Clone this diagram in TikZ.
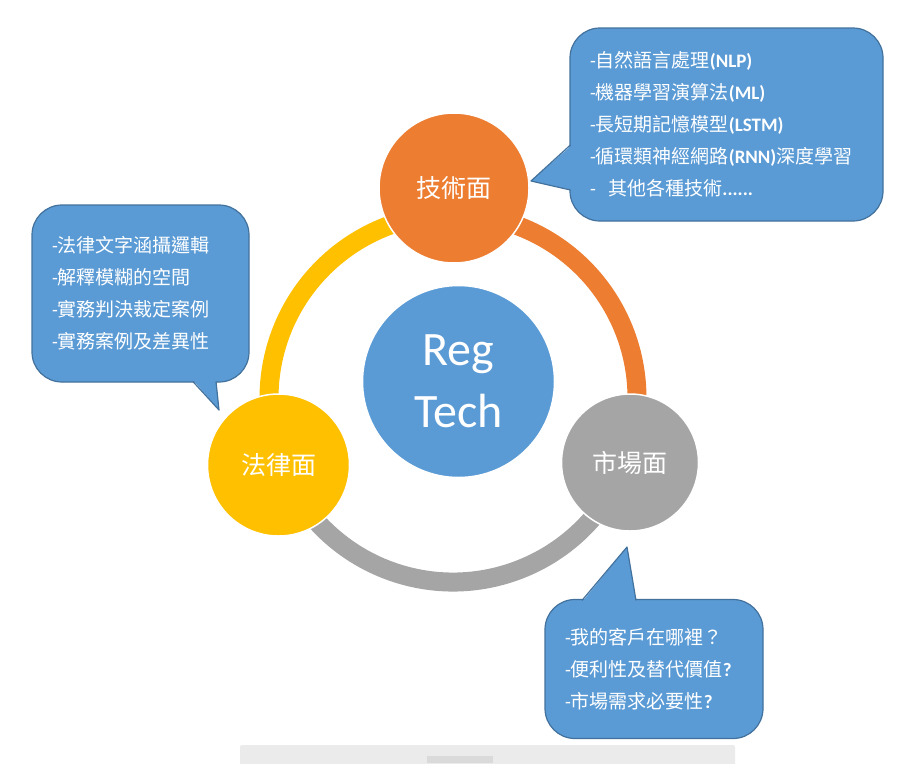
\documentclass[tikz,border=0pt]{standalone}
\usepackage{fontspec}
\setmainfont{Carlito}
\newfontfamily\cjk{Noto Sans CJK TC}
\definecolor{techorange}{HTML}{ED7D31}
\definecolor{lawyellow}{HTML}{FFC000}
\definecolor{marketgray}{HTML}{A5A5A5}
\definecolor{regblue}{HTML}{5B9BD5}
\definecolor{noteline}{HTML}{41719C}
\definecolor{barbg}{HTML}{EBEBEB}
\definecolor{bartab}{HTML}{DADADA}
\newcommand{\zh}[1]{{\cjk #1}}

\begin{document}
\begin{tikzpicture}[x=1pt, y=-1pt, every node/.style={text=white},
  pnode/.style={circle, draw=white, line width=1.5pt, inner sep=0pt, font=\cjk\fontsize{25}{30}\selectfont},
  ring/.style={line width=19pt},
  note/.style={rectangle, draw=noteline, line width=1.2pt, fill=regblue, rounded corners=30pt,
    align=left, inner xsep=20pt, inner ysep=0pt, font=\fontsize{19}{32}\selectfont},
  tipfill/.style={fill=regblue},
  tipline/.style={draw=noteline, line width=1.2pt, line join=round}]
  \useasboundingbox (0,0) rectangle (909,763);
  % Ring
  \coordinate (hub) at (453,398);
  \draw[ring, techorange] (hub) ++(-90:184) arc[start angle=-90, end angle=20, radius=184];
  \draw[ring, marketgray] (hub) ++(20:184) arc[start angle=20, end angle=159, radius=184];
  \draw[ring, lawyellow] (hub) ++(159:184) arc[start angle=159, end angle=270, radius=184];
  % Circles
  \node[pnode, fill=techorange, minimum size=150pt] (tech) at (454,188) {技術面};
  \node[pnode, fill=lawyellow, minimum size=142pt] (law) at (278.5,465) {法律面};
  \node[pnode, fill=marketgray, minimum size=137pt] (market) at (630,462.5) {市場面};
  \node[pnode, fill=regblue, minimum size=192pt, align=center,
    font=\fontsize{48}{62}\selectfont] (reg) at (458.5,381.5) {Reg\\Tech};
  % Notes
  \node[note, minimum width=313pt, minimum height=193pt, text width=273pt] (technote) at (726.5,124.5)
    {-\zh{自然語言處理}\textbf{(NLP)}\\
     -\zh{機器學習演算法}\textbf{(ML)}\\
     -\zh{長短期記憶模型}\textbf{(LSTM)}\\
     -\zh{循環類神經網路}\textbf{(RNN)}\zh{深度學習}\\
     -\ \ \zh{其他各種技術}\textbf{......}};
  \node[note, minimum width=217pt, minimum height=177pt, text width=177pt] (lawnote) at (140.5,293.5)
    {-\zh{法律文字涵攝邏輯}\\
     -\zh{解釋模糊的空間}\\
     -\zh{實務判決裁定案例}\\
     -\zh{實務案例及差異性}};
  \node[note, minimum width=218pt, minimum height=139pt, text width=178pt] (marketnote) at (654,669)
    {-\zh{我的客戶在哪裡？}\\
     -\zh{便利性及替代價值}\textbf{?}\\
     -\zh{市場需求必要性}\textbf{?}};
  % Pointers
  \coordinate (techtip) at (531,181);
  \coordinate (lawtip) at (219,410);
  \coordinate (markettip) at (627,547);
  \fill[tipfill] (572,145) -- (techtip) -- (572,190) -- cycle;
  \draw[tipline] (570.4,145) -- (techtip) -- (570.4,190);
  \fill[tipfill] (193,380) -- (lawtip) -- (216,380) -- cycle;
  \draw[tipline] (193,381.6) -- (lawtip) -- (216,381.6);
  \fill[tipfill] (582,602) -- (markettip) -- (636,602) -- cycle;
  \draw[tipline] (582,600.4) -- (markettip) -- (636,600.4);
  % Bar below
  \fill[barbg, rounded corners=2pt] (240,745) rectangle (735,766);
  \fill[bartab] (427,756) rectangle (493,763);
\end{tikzpicture}
\end{document}
